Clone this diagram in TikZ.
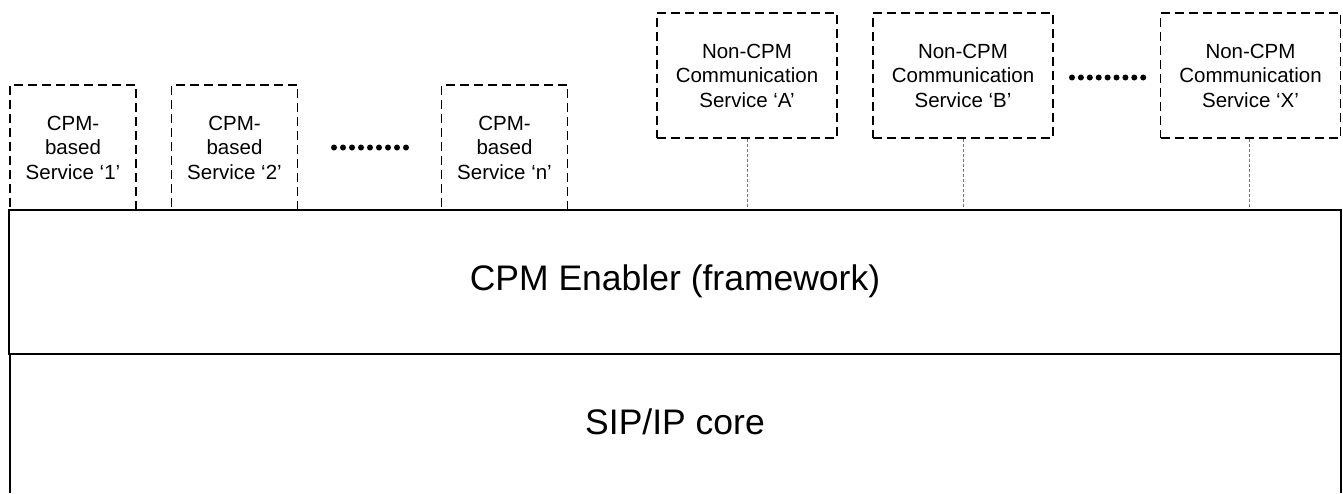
\documentclass[tikz,border=0pt]{standalone}
\usepackage{fontspec}
\setmainfont{Liberation Sans}
\begin{document}
\begin{tikzpicture}[x=1pt,y=-1pt,
  svcbox/.style={draw, line width=1.5pt, dash pattern=on 9pt off 5pt, rectangle, inner sep=0pt,
    minimum height=125pt, align=center, font=\fontsize{20.5}{24.5}\selectfont},
  cpmbox/.style={svcbox, minimum width=126pt},
  noncpm/.style={svcbox, minimum width=180pt},
  link/.style={draw=black!55, line width=1pt, dash pattern=on 3pt off 2pt},
  bigtext/.style={font=\fontsize{35.5}{40}\selectfont, inner sep=0pt},
  dot/.style={fill=black, draw=none}
]
\useasboundingbox (0,0) rectangle (1343,493);
% CPM-based services
\node[cpmbox] (s1) at (73,147.5) {CPM-\\based\\Service `1'};
\node[cpmbox] (s2) at (234.5,147.5) {CPM-\\based\\Service `2'};
\node[cpmbox] (sn) at (504.5,147.5) {CPM-\\based\\Service `n'};
% Non-CPM services
\node[noncpm] (na) at (747,75.5) {Non-CPM\\Communication\\Service `A'};
\node[noncpm] (nb) at (963,75.5) {Non-CPM\\Communication\\Service `B'};
\node[noncpm] (nx) at (1250.5,75.5) {Non-CPM\\Communication\\Service `X'};
% Enabler
\node[draw, line width=2.8pt, fill=white, minimum width=1332pt, minimum height=144pt, inner sep=0pt] (en) at (675,282) {};
\node[bigtext] (entext) at (675,281) {CPM Enabler (framework)};
% SIP/IP core
\coordinate (cl) at (10,354);
\coordinate (cr) at (1341,354);
\draw[line width=1.8pt] (cl) -- (10,493);
\draw[line width=1.8pt] (cr) -- (1341,493);
\node[bigtext] (sip) at (675,422) {SIP/IP core};
% connectors
\draw[link] (na.south) -- (na.south |- en.north);
\draw[link] (nb.south) -- (nb.south |- en.north);
\draw[link] ([xshift=-1.5pt]nx.south) -- ([xshift=-1.5pt]nx.south |- en.north);
% ellipsis dots
\foreach \i in {0,...,8} {
  \fill[dot] (334+\i*9.0,147.5) circle (3pt);
  \fill[dot] (1072+\i*8.9,77.5) circle (3pt);
}
\end{tikzpicture}
\end{document}
